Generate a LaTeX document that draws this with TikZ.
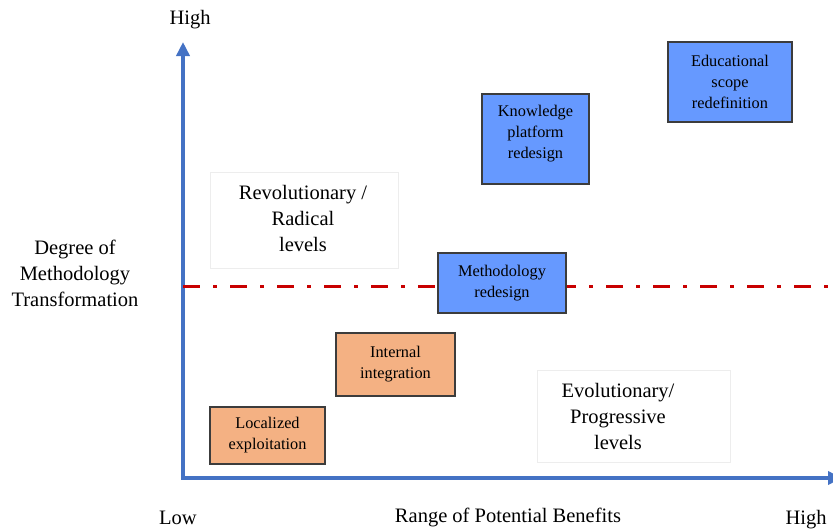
\documentclass[tikz,border=0pt]{standalone}
\usepackage{fontspec}
\setmainfont{Liberation Serif}
\usetikzlibrary{arrows.meta}
\definecolor{axisblue}{RGB}{68,114,196}
\definecolor{boxorange}{RGB}{244,177,131}
\definecolor{boxblue}{RGB}{102,153,255}
\definecolor{dashred}{RGB}{200,0,0}
\definecolor{boxline}{RGB}{60,60,60}
\begin{document}
\begin{tikzpicture}[x=1pt,y=-1pt,
  boxtext/.style={align=center, inner sep=0pt, font=\fontsize{16.3}{21}\selectfont},
  box/.style={boxtext, draw=boxline, line width=1.2pt},
  orangebox/.style={box, fill=boxorange},
  bluebox/.style={box, fill=boxblue},
  bigtext/.style={align=center, inner sep=0pt, font=\fontsize{20.5}{26}\selectfont},
  faintbox/.style={draw=black!7, line width=0.6pt},
  axis/.style={draw=axisblue, line width=3.8pt, line join=miter,
    {Triangle[width=13pt,length=14pt]}-{Triangle[width=13pt,length=14pt]}},
  midline/.style={draw=dashred, line width=3pt, dash pattern=on 17pt off 13pt on 4pt off 13pt}
]
\useasboundingbox (0,0) rectangle (833,531);

% faint frames of text boxes
\node[faintbox, minimum width=188pt, minimum height=96pt] (revframe) at (304,220) {};
\node[faintbox, minimum width=193pt, minimum height=92pt] (evoframe) at (633.5,416) {};

% axes
\coordinate (origin) at (183,478);
\coordinate (ytop) at (183,42);
\coordinate (xend) at (842,478);
\draw[axis] (ytop) -- (origin) -- (xend);

% dash-dot threshold line
\coordinate (dl) at (183,286);
\coordinate (dr) at (833,286);
\draw[midline] (dl) -- (dr);

% boxes
\node[orangebox, minimum width=115pt, minimum height=57pt] (loc) at (267.5,435.5) {Localized\\exploitation};
\node[orangebox, minimum width=119pt, minimum height=63pt] (intg) at (395.5,364.5) {Internal\\integration};
\node[bluebox, minimum width=128pt, minimum height=60pt] (meth) at (502,283) {Methodology\\redesign};
\node[bluebox, minimum width=107pt, minimum height=90pt] (know) at (535.5,139) {};
\node[boxtext] (knowtxt) at (535.5,134) {Knowledge\\platform\\redesign};
\node[bluebox, minimum width=124pt, minimum height=80pt] (edu) at (730,82) {Educational\\scope\\redefinition};

% labels
\node[bigtext] (revtxt) at (303,218) {Revolutionary /\\Radical\\levels};
\node[bigtext] (evotxt) at (618,416) {Evolutionary/\\Progressive\\levels};
\node[bigtext] (ylab) at (75,273) {Degree of\\Methodology\\Transformation};
\node[bigtext] (yhigh) at (190,20) {High};
\node[bigtext] (xlow) at (178,518) {Low};
\node[bigtext] (xlab) at (508,517) {Range of Potential Benefits};
\node[bigtext] (xhigh) at (806,520) {High};
\end{tikzpicture}
\end{document}
